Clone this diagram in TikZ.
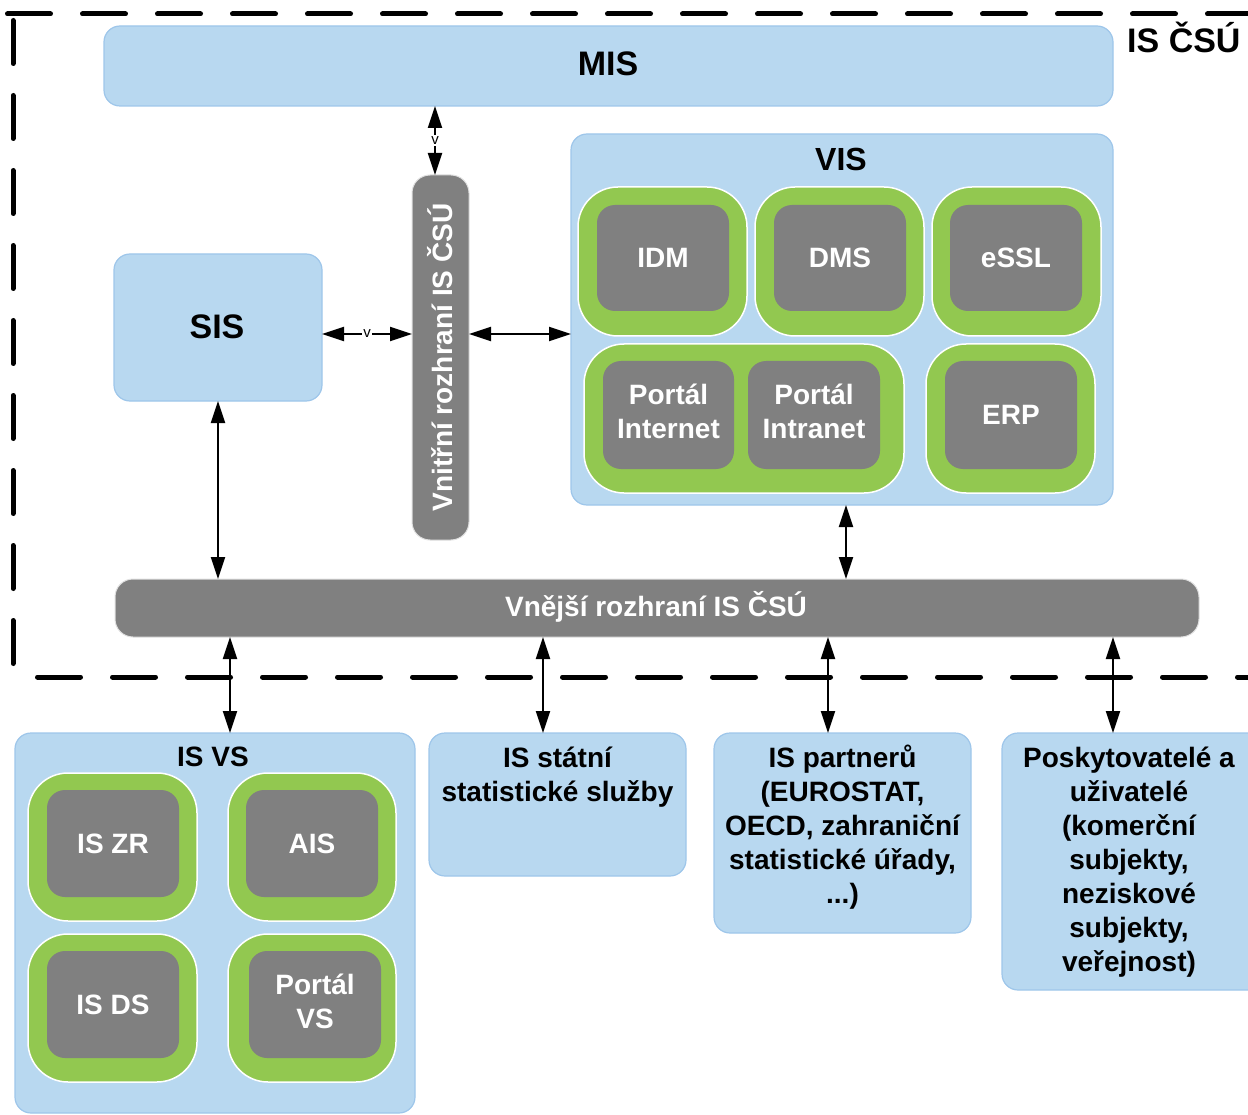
\documentclass[tikz,border=0pt]{standalone}
\usepackage{fontspec}
\setmainfont{Liberation Sans}
\usetikzlibrary{arrows.meta}
\definecolor{boxblue}{RGB}{184,216,240}
\definecolor{boxblueline}{RGB}{158,198,234}
\definecolor{ringgreen}{RGB}{146,200,80}
\definecolor{coregrey}{RGB}{128,128,128}
\newcommand\leadstrut{\rule{0pt}{27pt}}
\begin{document}
\begin{tikzpicture}[x=1pt,y=-1pt,
  region/.style={fill=boxblue, draw=boxblueline, line width=1.2pt, rounded corners=16pt,
    inner sep=0pt, outer sep=0pt, anchor=north west},
  ring/.style={fill=ringgreen, draw=white, line width=1.5pt, rounded corners=40pt,
    inner sep=0pt, outer sep=0pt, anchor=north west},
  core/.style={fill=coregrey, draw=none, rounded corners=18pt, inner sep=0pt, outer sep=0pt,
    anchor=north west, text=white, align=center, font=\bfseries\fontsize{28}{34}\selectfont},
  bus/.style={fill=coregrey, draw=black!12, line width=1pt, rounded corners=18pt,
    inner sep=0pt, outer sep=0pt, anchor=north west},
  bustext/.style={text=white, inner sep=0pt, font=\bfseries\fontsize{28}{34}\selectfont},
  title/.style={inner sep=0pt, anchor=base, font=\bfseries\fontsize{#1}{#1}\selectfont},
  note/.style={inner sep=0pt, anchor=north, align=center, font=\bfseries\fontsize{28}{34}\selectfont},
  link/.style={line width=2pt, {Triangle[length=22pt,width=14pt]}-{Triangle[length=22pt,width=14pt]}},
  vtag/.style={fill=white, inner sep=1.2pt, font=\fontsize{15}{15}\selectfont},
  frame/.style={line width=5pt, line cap=round, dash pattern=on 43pt off 32pt}
]
\useasboundingbox (0,0) rectangle (1248,1115);
\clip (0,0) rectangle (1248,1115);

% dashed boundary of the whole information system
\draw[frame] (7.5,14) -- (1300,14);
\draw[frame] (13,20.5) -- (13,664);
\draw[frame] (37.5,677) -- (1300,677);
\node[title=34, anchor=base west] (csu) at (1127,53) {IS ČSÚ};

% management layer
\node[region, minimum width=1009, minimum height=80] (mis) at (104,26) {};
\node[title=34] (mistext) at (608,76) {MIS};

% statistical system
\node[region, minimum width=208, minimum height=147] (sis) at (114,254) {};
\node[title=34] (sistext) at (217,338) {SIS};

% internal interface
\node[bus, minimum width=57, minimum height=365] (vbar) at (412,175) {};
\node[bustext, rotate=90] (vbartext) at (vbar.center) {Vnitřní rozhraní IS ČSÚ};

% internal systems
\node[region, minimum width=542, minimum height=371] (vis) at (571,134) {};
\node[title=32] (vistext) at (841,171) {VIS};
\node[ring, minimum width=169, minimum height=149] (ridm) at (578,187) {};
\node[core, minimum width=132, minimum height=106] (idm) at (597,205) {IDM};
\node[ring, minimum width=169, minimum height=149] (rdms) at (755,187) {};
\node[core, minimum width=132, minimum height=106] (dms) at (774,205) {DMS};
\node[ring, minimum width=169, minimum height=149] (ressl) at (932,187) {};
\node[core, minimum width=132, minimum height=106] (essl) at (950,205) {eSSL};
\node[ring, minimum width=320, minimum height=149] (rportal) at (584,344) {};
\node[core, minimum width=131, minimum height=108] (pinet) at (603,361) {Portál\\Internet\rule[-7pt]{0pt}{0pt}};
\node[core, minimum width=132, minimum height=108] (pintra) at (748,361) {Portál\\Intranet\rule[-7pt]{0pt}{0pt}};
\node[ring, minimum width=169, minimum height=149] (rerp) at (926,344) {};
\node[core, minimum width=132, minimum height=108] (erp) at (945,361) {ERP};

% external interface
\node[bus, minimum width=1084, minimum height=58] (xbar) at (115,579) {};
\node[bustext] (xbartext) at (656,607) {Vnější rozhraní IS ČSÚ};

% public administration systems
\node[region, minimum width=400, minimum height=380] (isvs) at (15,733) {};
\node[title=28] (isvstext) at (213,766) {IS VS};
\node[ring, minimum width=169, minimum height=148] (rzr) at (28,773) {};
\node[core, minimum width=132, minimum height=107] (iszr) at (47,790) {IS ZR};
\node[ring, minimum width=168, minimum height=148] (rais) at (228,773) {};
\node[core, minimum width=132, minimum height=107] (ais) at (246,790) {AIS};
\node[ring, minimum width=169, minimum height=148] (rds) at (28,934) {};
\node[core, minimum width=132, minimum height=107] (isds) at (47,951) {IS DS};
\node[ring, minimum width=168, minimum height=148] (rpvs) at (228,934) {};
\node[core, minimum width=132, minimum height=107] (pvs) at (249,951) {Portál\\VS\rule[-7pt]{0pt}{0pt}};

% other external parties
\node[region, minimum width=257, minimum height=143] (isss) at (429,733) {};
\node[note] (issstext) at ([yshift=-7pt]isss.north) {\leadstrut IS státní\\statistické služby};
\node[region, minimum width=257, minimum height=200] (partn) at (714,733) {};
\node[note] (partntext) at ([yshift=-7pt]partn.north) {\leadstrut IS partnerů\\(EUROSTAT,\\OECD, zahraniční\\statistické úřady,\\...)};
\node[region, minimum width=270, minimum height=257] (users) at (1002,733) {};
\node[note] (userstext) at (1129,740) {\leadstrut Poskytovatelé a\\uživatelé\\(komerční\\subjekty,\\neziskové\\subjekty,\\veřejnost)};

% connectors
\coordinate (rowA) at (0,334);
\coordinate (colM) at (435,0);
\coordinate (colV) at (846,0);
\coordinate (colA) at (230,0);
\coordinate (colB) at (543,0);
\coordinate (colC) at (828,0);
\coordinate (colD) at (1113,0);

\draw[link] (colM |- mis.south) -- node[vtag] {v} (colM |- vbar.north);
\draw[link] (sis.east |- rowA) -- node[vtag] {v} (vbar.west |- rowA);
\draw[link] (vbar.east |- rowA) -- (vis.west |- rowA);
\draw[link] (sis.south) -- (sis.south |- xbar.north);
\draw[link] (colV |- vis.south) -- (colV |- xbar.north);
\draw[link] (colA |- xbar.south) -- (colA |- isvs.north);
\draw[link] (colB |- xbar.south) -- (colB |- isss.north);
\draw[link] (colC |- xbar.south) -- (colC |- partn.north);
\draw[link] (colD |- xbar.south) -- (colD |- users.north);
\end{tikzpicture}
\end{document}
